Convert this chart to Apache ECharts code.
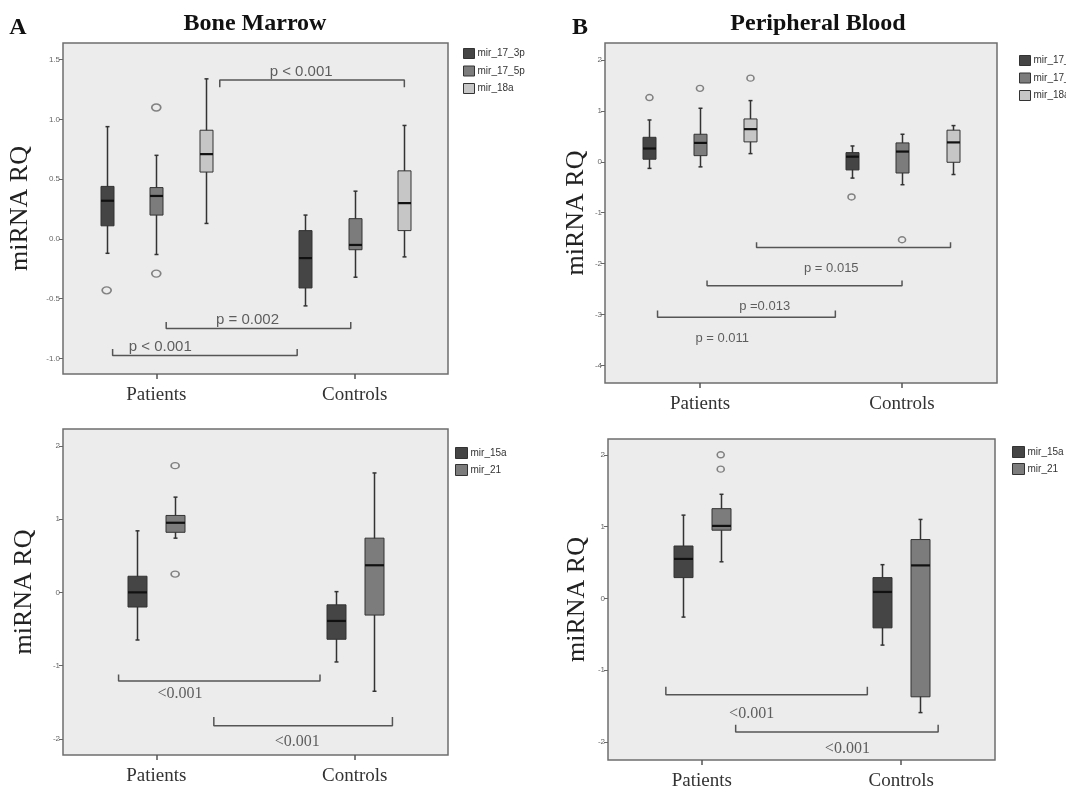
<!DOCTYPE html>
<html>
<head>
<meta charset="utf-8">
<script src="https://cdn.jsdelivr.net/npm/echarts@6/dist/echarts.min.js"></script>
<style>
  html, body { margin: 0; padding: 0; background: #fff; }
  #chart { width: 1066px; height: 791px; }
</style>
</head>
<body>
<div id="chart"></div>
<script>
// categories on the x axis
const groups = ['Patients', 'Controls'];

// box stats per group: [min, Q1, median, Q3, max]  (Patients, Controls)
// A - bone marrow, top
const bm_mir17_3p = [[-0.12, 0.11, 0.32, 0.44, 0.94], [-0.56, -0.41, -0.16, 0.07, 0.20]];
const bm_mir17_5p = [[-0.13, 0.20, 0.36, 0.43, 0.70], [-0.32, -0.09, -0.05, 0.17, 0.40]];
const bm_mir18a = [[0.13, 0.56, 0.71, 0.91, 1.34], [-0.15, 0.07, 0.30, 0.57, 0.95]];
const bm_out17_3p = [[-0.43], []];
const bm_out17_5p = [[1.10, -0.29], []];
const bm_out18a = [[], []];

// B - peripheral blood, top
const pb_mir17_3p = [[-0.13, 0.05, 0.26, 0.48, 0.82], [-0.32, -0.16, 0.10, 0.18, 0.31]];
const pb_mir17_5p = [[-0.10, 0.12, 0.37, 0.54, 1.05], [-0.45, -0.22, 0.20, 0.37, 0.54]];
const pb_mir18a = [[0.16, 0.39, 0.64, 0.84, 1.20], [-0.25, -0.01, 0.38, 0.62, 0.71]];
const pb_out17_3p = [[1.26], [-0.69]];
const pb_out17_5p = [[1.44], [-1.53]];
const pb_out18a = [[1.64], []];

// A - bone marrow, bottom
const bm_mir15a = [[-0.65, -0.20, 0.00, 0.22, 0.84], [-0.95, -0.64, -0.39, -0.17, 0.01]];
const bm_mir21 = [[0.74, 0.82, 0.95, 1.05, 1.30], [-1.35, -0.31, 0.37, 0.74, 1.63]];
const bm_out15a = [[], []];
const bm_out21 = [[1.73, 0.25], []];

// B - peripheral blood, bottom
const pb_mir15a = [[-0.26, 0.29, 0.55, 0.73, 1.16], [-0.65, -0.41, 0.09, 0.29, 0.47]];
const pb_mir21 = [[0.51, 0.95, 1.01, 1.25, 1.45], [-1.59, -1.37, 0.46, 0.82, 1.10]];
const pb_out15a = [[], []];
const pb_out21 = [[2.00, 1.80], []];

// y tick labels
const ticksBM1 = [-1.0, -0.5, 0.0, 0.5, 1.0, 1.5];
const ticksPB1 = [-4, -3, -2, -1, 0, 1, 2];
const ticksBM2 = [-2, -1, 0, 1, 2];
const ticksPB2 = [-2, -1, 0, 1, 2];

// significance brackets: [from, to, level, tick end, text, text x, text y]  (x in group units)
const bm1Brackets = [
  [0.82, 1.75, 1.33, 1.27, 'p < 0.001', 1.23, 1.40],
  [0.55, 1.48, -0.75, -0.695, 'p = 0.002', 0.96, -0.68],
  [0.28, 1.21, -0.975, -0.92, 'p < 0.001', 0.52, -0.905]
];
const pb1Brackets = [
  [0.78, 1.74, -1.68, -1.58, 'p = 0.015', 1.15, -2.09],
  [0.535, 1.50, -2.43, -2.33, 'p =0.013', 0.82, -2.84],
  [0.29, 1.17, -3.05, -2.92, 'p = 0.011', 0.61, -3.46]
];
const bm2Brackets = [
  [0.31, 1.325, -1.21, -1.12, '<0.001', 0.62, -1.39],
  [0.79, 1.69, -1.82, -1.70, '<0.001', 1.21, -2.04]
];
const pb2Brackets = [
  [0.32, 1.33, -1.34, -1.23, '<0.001', 0.75, -1.60],
  [0.67, 1.685, -1.86, -1.76, '<0.001', 1.23, -2.10]
];

const DARK = '#454545', MID = '#7c7c7c', LIGHT = '#c6c6c6';

const panels = [
  {
    grid: { left: 63, top: 43, width: 385, height: 331 },
    y: [-1.13, 1.64], ticks: ticksBM1, dec: 1, nameGap: 30,
    boxW: 13, spread: 0.25, outSize: [9, 7],
    series: [['mir_17_3p', bm_mir17_3p, bm_out17_3p, DARK], ['mir_17_5p', bm_mir17_5p, bm_out17_5p, MID], ['mir_18a', bm_mir18a, bm_out18a, LIGHT]],
    brackets: bm1Brackets, labelFont: { fontFamily: 'Liberation Sans', fontSize: 15 },
    legend: { left: 463, top: 48, itemWidth: 11, itemHeight: 10, itemGap: 6.5 }
  },
  {
    grid: { left: 605, top: 43, width: 392, height: 340 },
    y: [-4.34, 2.33], ticks: ticksPB1, dec: 0, nameGap: 16,
    boxW: 13, spread: 0.25, outSize: [7, 6],
    series: [['mir_17_3p', pb_mir17_3p, pb_out17_3p, DARK], ['mir_17_5p', pb_mir17_5p, pb_out17_5p, MID], ['mir_18a', pb_mir18a, pb_out18a, LIGHT]],
    brackets: pb1Brackets, labelFont: { fontFamily: 'Liberation Sans', fontSize: 13 },
    legend: { left: 1019, top: 55, itemWidth: 11, itemHeight: 10, itemGap: 6.5 }
  },
  {
    grid: { left: 63, top: 429, width: 385, height: 326 },
    y: [-2.22, 2.23], ticks: ticksBM2, dec: 0, nameGap: 26,
    boxW: 19, spread: 0.19, outSize: [8, 6],
    series: [['mir_15a', bm_mir15a, bm_out15a, DARK], ['mir_21', bm_mir21, bm_out21, MID]],
    brackets: bm2Brackets, labelFont: { fontFamily: 'Liberation Serif', fontSize: 16 },
    legend: { left: 455, top: 447, itemWidth: 12, itemHeight: 11, itemGap: 5 }
  },
  {
    grid: { left: 608, top: 439, width: 387, height: 323 },
    y: [-2.25, 2.22], ticks: ticksPB2, dec: 0, nameGap: 18,
    boxW: 19, spread: 0.19, outSize: [7, 6],
    series: [['mir_15a', pb_mir15a, pb_out15a, DARK], ['mir_21', pb_mir21, pb_out21, MID]],
    brackets: pb2Brackets, labelFont: { fontFamily: 'Liberation Serif', fontSize: 16 },
    legend: { left: 1012, top: 446, itemWidth: 12, itemHeight: 11, itemGap: 5 }
  }
];

function boxRender(boxW) {
  return function (params, api) {
    const x = api.value(0);
    const p = [1, 2, 3, 4, 5].map(function (d) { return api.coord([x, api.value(d)]); });
    const cx = Math.round(p[0][0]) + 0.5;
    const h = boxW / 2;
    const line = { stroke: '#333', lineWidth: 1.5 };
    return {
      type: 'group',
      children: [
        { type: 'line', shape: { x1: cx, y1: p[4][1], x2: cx, y2: p[0][1] }, style: line },
        { type: 'line', shape: { x1: cx - 2, y1: p[4][1], x2: cx + 2, y2: p[4][1] }, style: line },
        { type: 'line', shape: { x1: cx - 2, y1: p[0][1], x2: cx + 2, y2: p[0][1] }, style: line },
        { type: 'rect', shape: { x: cx - h, y: p[3][1], width: boxW, height: p[1][1] - p[3][1] },
          style: { fill: api.visual('color'), stroke: '#333', lineWidth: 1 } },
        { type: 'line', shape: { x1: cx - h, y1: p[2][1], x2: cx + h, y2: p[2][1] }, style: { stroke: '#111', lineWidth: 2.2 } }
      ]
    };
  };
}

const grid = [], xAxis = [], yAxis = [], series = [], legend = [];

panels.forEach(function (pn, gi) {
  grid.push(Object.assign({ show: true, backgroundColor: '#ececec', borderColor: '#6e6e6e', borderWidth: 1.5 }, pn.grid));
  xAxis.push({
    type: 'value', gridIndex: gi, min: 0.03, max: 1.97,
    axisLine: { show: false, onZero: false }, splitLine: { show: false },
    axisTick: { customValues: [0.5, 1.5], length: 5, lineStyle: { color: '#555', width: 1.5 } },
    axisLabel: {
      customValues: [0.5, 1.5], margin: 12,
      formatter: function (v) { return groups[Math.round(v - 0.5)]; },
      fontFamily: 'Liberation Serif', fontSize: 19, color: '#333'
    }
  });
  yAxis.push({
    type: 'value', gridIndex: gi, min: pn.y[0], max: pn.y[1],
    axisLine: { show: false, onZero: false }, splitLine: { show: false },
    axisTick: { customValues: pn.ticks, length: 4, lineStyle: { color: '#666' } },
    axisLabel: {
      customValues: pn.ticks, margin: 3, fontSize: 8, color: '#666', fontFamily: 'Liberation Sans',
      formatter: function (v) { return v.toFixed(pn.dec); }
    },
    name: 'miRNA RQ', nameLocation: 'middle', nameGap: pn.nameGap,
    nameTextStyle: { fontFamily: 'Liberation Serif', fontSize: 26, color: '#222' }
  });

  const n = pn.series.length;
  pn.series.forEach(function (s, si) {
    const off = (si - (n - 1) / 2) * pn.spread;
    series.push({
      type: 'custom', name: s[0], xAxisIndex: gi, yAxisIndex: gi,
      itemStyle: { color: s[3] },
      renderItem: boxRender(pn.boxW),
      encode: { x: 0, y: [1, 2, 3, 4, 5] },
      data: s[1].map(function (b, i) { return [i + 0.5 + off].concat(b); })
    });
    const outs = [];
    s[2].forEach(function (vals, i) {
      vals.forEach(function (v) { outs.push([i + 0.5 + off, v]); });
    });
    series.push({
      type: 'scatter', xAxisIndex: gi, yAxisIndex: gi, silent: true,
      symbol: 'circle', symbolSize: pn.outSize,
      itemStyle: { color: 'rgba(0,0,0,0)', borderColor: '#666', borderWidth: 1.5 },
      data: outs
    });
  });

  pn.brackets.forEach(function (b) {
    series.push({
      type: 'line', xAxisIndex: gi, yAxisIndex: gi, silent: true, symbol: 'none',
      lineStyle: { color: '#555', width: 1.5 },
      data: [[b[0], b[3]], [b[0], b[2]], [b[1], b[2]], [b[1], b[3]]]
    });
  });
  series.push({
    type: 'scatter', xAxisIndex: gi, yAxisIndex: gi, silent: true, symbolSize: 0,
    label: Object.assign({ show: true, position: 'inside', formatter: '{b}', color: '#3a3a3a' }, pn.labelFont),
    data: pn.brackets.map(function (b) { return { name: b[4], value: [b[5], b[6]] }; })
  });

  legend.push(Object.assign({
    orient: 'vertical', padding: 0, icon: 'rect', selectedMode: false,
    itemStyle: { borderColor: '#333', borderWidth: 1 },
    textStyle: { fontFamily: 'Liberation Sans', fontSize: 10, color: '#333', padding: [0, 0, 0, -2] },
    data: pn.series.map(function (s) { return s[0]; })
  }, pn.legend));
});

const chart = echarts.init(document.getElementById('chart'));
chart.setOption({
  animation: false,
  backgroundColor: '#fff',
  grid: grid, xAxis: xAxis, yAxis: yAxis, legend: legend, series: series,
  graphic: [
    { type: 'text', x: 18, y: 28, style: { text: 'A', fontFamily: 'Liberation Serif', fontWeight: 'bold', fontSize: 24, fill: '#111', align: 'center', verticalAlign: 'middle' } },
    { type: 'text', x: 255, y: 24, style: { text: 'Bone Marrow', fontFamily: 'Liberation Serif', fontWeight: 'bold', fontSize: 24, fill: '#111', align: 'center', verticalAlign: 'middle' } },
    { type: 'text', x: 580, y: 28, style: { text: 'B', fontFamily: 'Liberation Serif', fontWeight: 'bold', fontSize: 24, fill: '#111', align: 'center', verticalAlign: 'middle' } },
    { type: 'text', x: 818, y: 24, style: { text: 'Peripheral Blood', fontFamily: 'Liberation Serif', fontWeight: 'bold', fontSize: 24, fill: '#111', align: 'center', verticalAlign: 'middle' } }
  ]
});
</script>
</body>
</html>
